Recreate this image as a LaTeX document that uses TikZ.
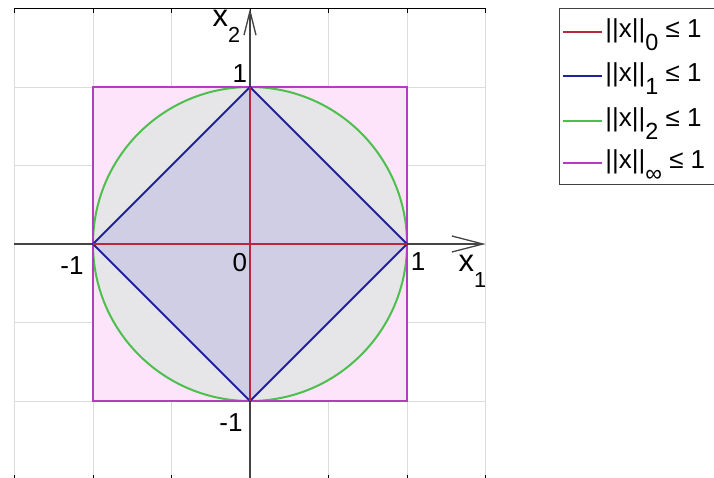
\documentclass[tikz,border=0pt]{standalone}
\usepackage{fontspec}
\setmainfont{Liberation Sans}
\usepackage{xcolor}
\usepackage{graphicx}
\usepackage{tikz}
\usetikzlibrary{arrows.meta,positioning}
\definecolor{nrmred}{HTML}{B8283C}
\definecolor{nrmblue}{HTML}{22229A}
\definecolor{nrmgreen}{HTML}{4CBF4C}
\definecolor{nrmmag}{HTML}{B43CBE}
\definecolor{nrmpink}{HTML}{FDE4FB}
\definecolor{nrmgray}{HTML}{E6E6E8}
\definecolor{nrmlav}{HTML}{D0CEE4}
\definecolor{nrmgrid}{HTML}{DCDCDC}
\definecolor{nrmdark}{HTML}{444444}
\newcommand\lsub[2][0.8]{\raisebox{-0.5em}{\scalebox{#1}{#2}}}
\tikzset{
  gridln/.style={draw=nrmgrid,line width=0.8pt},
  axln/.style={draw=nrmdark,line width=1.3pt},
  tickln/.style={draw=black,line width=0.8pt},
  normln/.style={line width=2pt},
  numlbl/.style={font=\fontsize{26}{26}\selectfont,inner sep=0pt},
  axlbl/.style={font=\fontsize{31}{31}\selectfont,inner sep=0pt,anchor=base west},
  legtxt/.style={font=\fontsize{26}{26}\selectfont,inner sep=0pt,anchor=base west},
}

\begin{document}
\begin{tikzpicture}[x=157pt,y=157pt]
  \useasboundingbox (-250pt,-234pt) rectangle (464pt,244pt);
  \fill[white] (-250pt,-234pt) rectangle (464pt,244pt);
  % grid and box
  \foreach \g in {-1.5,-1,...,1.5} \draw[gridln] (\g,-1.5) -- (\g,1.5);
  \foreach \g in {-1,-0.5,...,1} \draw[gridln] (-1.5,\g) -- (1.5,\g);
  \draw[tickln] (-1.5,1.5) -- (1.5,1.5);
  \foreach \g in {-1.5,-1,...,1.5} {
    \draw[tickln] (\g,1.5) -- ++(0,-5pt);
    \draw[tickln] (\g,-1.5) -- ++(0,5pt);
  }
  % unit balls, fills
  \coordinate (e) at (1,0); \coordinate (n) at (0,1);
  \coordinate (w) at (-1,0); \coordinate (s) at (0,-1);
  \fill[nrmpink] (-1,-1) rectangle (1,1);
  \fill[nrmgray] (0,0) circle (1);
  \fill[nrmlav] (e) -- (n) -- (w) -- (s) -- cycle;
  % axes
  \coordinate (xa) at (-1.5,0); \coordinate (xb) at (1.5,0);
  \coordinate (ya) at (0,-1.5); \coordinate (yb) at (0,1.5);
  \draw[axln,-{Straight Barb[length=31pt,width=16pt]}] (xa) -- (xb);
  \draw[axln,-{Straight Barb[length=24pt,width=12pt]}] (ya) -- (yb);
  % unit balls, outlines
  \draw[nrmgreen,normln] (0,0) circle (1);
  \draw[nrmmag,line width=2.4pt] (-1,-1) rectangle (1,1);
  \draw[nrmblue,normln] (e) -- (n) -- (w) -- (s) -- cycle;
  \draw[nrmred,normln] (w) -- (e) (s) -- (n);
  % tick labels
  \node[numlbl] (lm1) at (-1.134,-0.140) {-1};
  \node[numlbl] (l0) at (-0.064,-0.115) {0};
  \node[numlbl] (lp1) at (1.070,-0.115) {1};
  \node[numlbl] (lt1) at (-0.064,1.083) {1};
  \node[numlbl] (lb1) at (-0.121,-1.140) {-1};
  \node[axlbl] (xone) at (1.328,-0.178) {x\lsub[0.7]{1}};
  \node[axlbl] (xtwo) at (-0.240,1.385) {x\lsub[0.7]{2}};
  % legend
  \draw[black!75,line width=0.8pt] (2.994,0.382) -- (1.968,0.382) -- (1.968,1.503) -- (2.994,1.503);
  \foreach \c/\s/\y [count=\i] in {nrmred/0/1.350,nrmblue/1/1.070,nrmgreen/2/0.783,nrmmag/∞/0.516} {
    \draw[\c,normln] (1.994,\y) coordinate (ls\i) -- (2.242,\y) coordinate (le\i);
    \node[legtxt] (lg\i) at (2.262,\y-0.032) {||x||\lsub[0.9]{\s} ≤ 1};
  }
\end{tikzpicture}
\end{document}
